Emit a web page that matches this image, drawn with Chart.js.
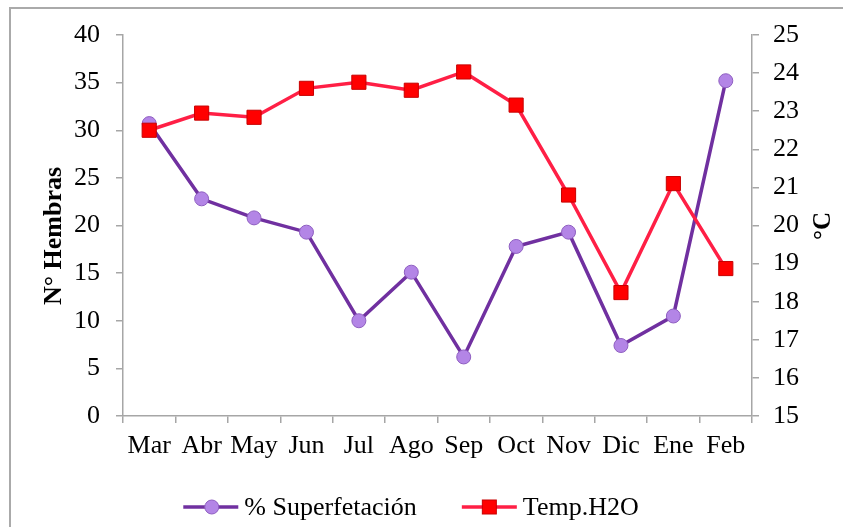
<!DOCTYPE html>
<html><head><meta charset="utf-8">
<script src="https://cdn.jsdelivr.net/npm/chart.js@4/dist/chart.umd.min.js"></script>
<style>html,body{margin:0;padding:0;background:#fff;}#wrap{width:843px;height:527px;}</style>
</head><body><div id="wrap"><canvas id="c" width="843" height="527"></canvas></div>
<script>
const months = ["Mar","Abr","May","Jun","Jul","Ago","Sep","Oct","Nov","Dic","Ene","Feb"];
const superfetacion = [30.7, 22.8, 20.8, 19.3, 10.0, 15.1, 6.2, 17.8, 19.3, 7.4, 10.5, 35.2];
const tempH2O = [22.5, 22.95, 22.84, 23.6, 23.76, 23.55, 24.03, 23.16, 20.8, 18.24, 21.1, 18.87];
const seriesNames = ["% Superfetación", "Temp.H2O"];
const leftTitle = "N° Hembras";
const rightTitle = "°C";

const FONT = "'Liberation Serif', 'Times New Roman', serif";
const AXIS = "#a6a6a6";

const framePlugin = {
  id: 'frame',
  beforeDraw(chart) {
    const ctx = chart.ctx;
    ctx.save();
    ctx.strokeStyle = "#aaaaaa";
    ctx.lineWidth = 2;
    ctx.strokeRect(10, 8, 900, 600);
    ctx.restore();
  },
  afterDraw(chart) {
    const ctx = chart.ctx;
    ctx.save();
    ctx.fillStyle = "#000";
    ctx.font = "bold 26px " + FONT;
    ctx.textAlign = "center";
    ctx.textBaseline = "alphabetic";
    ctx.translate(61, 236);
    ctx.rotate(-Math.PI / 2);
    ctx.fillText(leftTitle, 0, 0);
    ctx.restore();
    ctx.save();
    ctx.fillStyle = "#000";
    ctx.font = "bold 25px " + FONT;
    ctx.textAlign = "center";
    ctx.textBaseline = "alphabetic";
    ctx.translate(830, 226);
    ctx.rotate(-Math.PI / 2);
    ctx.fillText(rightTitle, 0, 0);
    ctx.restore();

    ctx.save();
    ctx.font = "26px " + FONT;
    ctx.textBaseline = "middle";
    ctx.textAlign = "left";
    const lineW = 55, gapText = 6, gapItems = 45, y = 507;
    const ds = chart.data.datasets;
    const widths = seriesNames.map(n => lineW + gapText + ctx.measureText(n).width);
    const total = widths.reduce((a, b) => a + b, 0) + gapItems * (widths.length - 1);
    let x = 411 - total / 2;
    seriesNames.forEach((name, i) => {
      const d = ds.find(dd => dd.label === name);
      ctx.strokeStyle = d.borderColor;
      ctx.lineWidth = d.borderWidth;
      ctx.beginPath();
      ctx.moveTo(x, y);
      ctx.lineTo(x + lineW, y);
      ctx.stroke();
      const cx = x + lineW / 2 + (i === 0 ? 1 : 0);
      ctx.fillStyle = d.pointBackgroundColor;
      ctx.strokeStyle = d.pointBorderColor;
      ctx.lineWidth = 1;
      if (d.pointStyle === 'rect') {
        ctx.fillRect(cx - 7, y - 7, 14, 14);
        ctx.strokeRect(cx - 7, y - 7, 14, 14);
      } else {
        ctx.beginPath();
        ctx.arc(cx, y, 7, 0, Math.PI * 2);
        ctx.fill();
        ctx.stroke();
      }
      ctx.fillStyle = "#000";
      ctx.fillText(name, x + lineW + gapText, y + 1);
      x += widths[i] + gapItems;
    });
    ctx.restore();
  }
};

new Chart(document.getElementById('c'), {
  type: 'line',
  data: {
    labels: months,
    datasets: [
      {
        label: seriesNames[0],
        data: superfetacion,
        yAxisID: 'y',
        borderColor: '#7030A0',
        borderWidth: 3.5,
        pointStyle: 'circle',
        pointRadius: 7,
        pointBackgroundColor: '#B385E6',
        pointBorderColor: '#8E5EC0',
        pointBorderWidth: 1,
        tension: 0,
        order: 2
      },
      {
        label: seriesNames[1],
        data: tempH2O,
        yAxisID: 'y1',
        borderColor: '#FF1F45',
        borderWidth: 3.5,
        pointStyle: 'rect',
        pointRadius: 10,
        pointBackgroundColor: '#FF0000',
        pointBorderColor: '#C80000',
        pointBorderWidth: 1,
        tension: 0,
        order: 1
      }
    ]
  },
  options: {
    responsive: false,
    animation: false,
    devicePixelRatio: 1,
    layout: { padding: { top: 35, left: 0, right: 0, bottom: 0 } },
    plugins: { legend: { display: false }, tooltip: { enabled: false } },
    scales: {
      x: {
        offset: true,
        grid: { offset: true, drawOnChartArea: false, drawTicks: true, tickLength: 7, color: AXIS, lineWidth: 1.5 },
        border: { color: AXIS, width: 1.5 },
        ticks: { color: '#000', font: { family: FONT, size: 26 }, padding: 8, maxRotation: 0, autoSkip: false },
        afterFit(s) { s.height = 111; }
      },
      y: {
        position: 'left',
        min: 0, max: 40,
        grid: { drawOnChartArea: false, tickLength: 7, color: AXIS, lineWidth: 1.5 },
        border: { color: AXIS, width: 1.5 },
        ticks: { stepSize: 5, color: '#000', font: { family: FONT, size: 26 }, padding: 16 },
        afterFit(s) { s.width = 123; }
      },
      y1: {
        position: 'right',
        min: 15, max: 25,
        grid: { drawOnChartArea: false, tickLength: 7, color: AXIS, lineWidth: 1.5 },
        border: { color: AXIS, width: 1.5 },
        ticks: { stepSize: 1, color: '#000', font: { family: FONT, size: 26 }, padding: 14 },
        afterFit(s) { s.width = 91; }
      }
    }
  },
  plugins: [framePlugin]
});
</script>
</body></html>
